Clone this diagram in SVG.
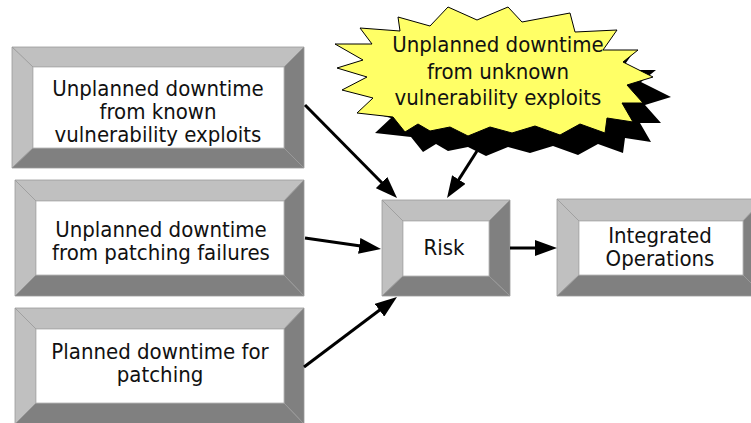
<svg xmlns="http://www.w3.org/2000/svg" width="751" height="423" viewBox="0 0 751 423">
  <style>
    .lt { fill: #c0c0c0; stroke: #9a9a9a; stroke-width: 0.8; stroke-linejoin: round; }
    .dk { fill: #808080; stroke: #9a9a9a; stroke-width: 0.8; stroke-linejoin: round; }
    .face { fill: #ffffff; stroke: #b0b0b0; stroke-width: 0.8; }
    .lbl { font-family: "DejaVu Sans Condensed", "DejaVu Sans", sans-serif; font-stretch: condensed; font-size: 22px; fill: #111111; text-anchor: middle; }
    .wire { fill: none; stroke: #000000; stroke-width: 3; marker-end: url(#head); }
    .burst { fill: #ffff66; stroke: #000000; stroke-width: 1; stroke-linejoin: miter; }
    .burst-shadow { fill: #000000; }
  </style>
  <defs>
    <marker id="head" viewBox="0 0 22 16" markerWidth="22" markerHeight="16" refX="12" refY="8" orient="auto" markerUnits="userSpaceOnUse">
      <path d="M0,0 L22,8 L0,16 Z" fill="#000000"/>
    </marker>
    <polygon id="starShape" points="448,7 477,20 508,7 522,22 570,13 575,32 617,30 603,50 638,50 623,62 653,77 627,85 643,103 622,103 633,122 607,118 605,133 580,124 560,135 535,126 512,133 490,127 468,136 450,127 430,131 418,124 405,132 393,117 357,113 373,98 342,90 367,77 337,68 363,60 335,44 372,44 360,28 400,31 398,17 430,26"/>
  </defs>

  <rect width="751" height="423" fill="#ffffff"/>

  <!-- source: known vulnerability exploits -->
  <g id="known-exploits">
    <polygon class="lt" points="12,47 304,47 284,67 33,67"/>
    <polygon class="lt" points="12,47 33,67 33,148 12,168"/>
    <polygon class="dk" points="304,47 304,168 284,148 284,67"/>
    <polygon class="dk" points="12,168 33,148 284,148 304,168"/>
    <rect class="face" x="33" y="67" width="251" height="81"/>
    <text class="lbl" x="158" y="96">Unplanned downtime</text>
    <text class="lbl" x="158" y="119">from known</text>
    <text class="lbl" x="158" y="142">vulnerability exploits</text>
  </g>

  <!-- source: patching failures -->
  <g id="patch-failures">
    <polygon class="lt" points="15,180 304,180 284,201 36,201"/>
    <polygon class="lt" points="15,180 36,201 36,275 15,296"/>
    <polygon class="dk" points="304,180 304,296 284,275 284,201"/>
    <polygon class="dk" points="15,296 36,275 284,275 304,296"/>
    <rect class="face" x="36" y="201" width="248" height="74"/>
    <text class="lbl" x="161" y="237">Unplanned downtime</text>
    <text class="lbl" x="161" y="260">from patching failures</text>
  </g>

  <!-- source: planned patch windows -->
  <g id="planned-patching">
    <polygon class="lt" points="15,308 304,308 284,329 36,329"/>
    <polygon class="lt" points="15,308 36,329 36,403 15,424"/>
    <polygon class="dk" points="304,308 304,424 284,403 284,329"/>
    <polygon class="dk" points="15,424 36,403 284,403 304,424"/>
    <rect class="face" x="36" y="329" width="248" height="74"/>
    <text class="lbl" x="160" y="359">Planned downtime for</text>
    <text class="lbl" x="160" y="382">patching</text>
  </g>

  <!-- source: unknown exploits (starburst with drop shadow) -->
  <g id="unknown-exploits">
    <use href="#starShape" class="burst-shadow" transform="translate(18,20)"/>
    <use href="#starShape" class="burst"/>
    <text class="lbl" x="498" y="52">Unplanned downtime</text>
    <text class="lbl" x="498" y="78.5">from unknown</text>
    <text class="lbl" x="498" y="105">vulnerability exploits</text>
  </g>

  <!-- risk -->
  <g id="risk">
    <polygon class="lt" points="382,200 510,200 489,221 403,221"/>
    <polygon class="lt" points="382,200 403,221 403,276 382,296"/>
    <polygon class="dk" points="510,200 510,296 489,276 489,221"/>
    <polygon class="dk" points="382,296 403,276 489,276 510,296"/>
    <rect class="face" x="403" y="221" width="86" height="55"/>
    <text class="lbl" x="444" y="255">Risk</text>
  </g>

  <!-- outcome -->
  <g id="integrated-operations">
    <polygon class="lt" points="557,199 764,199 743,221 579,221"/>
    <polygon class="lt" points="557,199 579,221 579,275 557,296"/>
    <polygon class="dk" points="764,199 764,296 743,275 743,221"/>
    <polygon class="dk" points="557,296 579,275 743,275 764,296"/>
    <rect class="face" x="579" y="221" width="164" height="54"/>
    <text class="lbl" x="660" y="243">Integrated</text>
    <text class="lbl" x="660" y="266">Operations</text>
  </g>

  <!-- connectors -->
  <g id="connectors">
    <path class="wire" d="M305,105 L390,191"/>
    <path class="wire" d="M477,151 L452.4,189.6"/>
    <path class="wire" d="M305,238 L371.1,247.6"/>
    <path class="wire" d="M304,367 L389,303"/>
    <path class="wire" d="M510,248 L547,248"/>
  </g>
</svg>
